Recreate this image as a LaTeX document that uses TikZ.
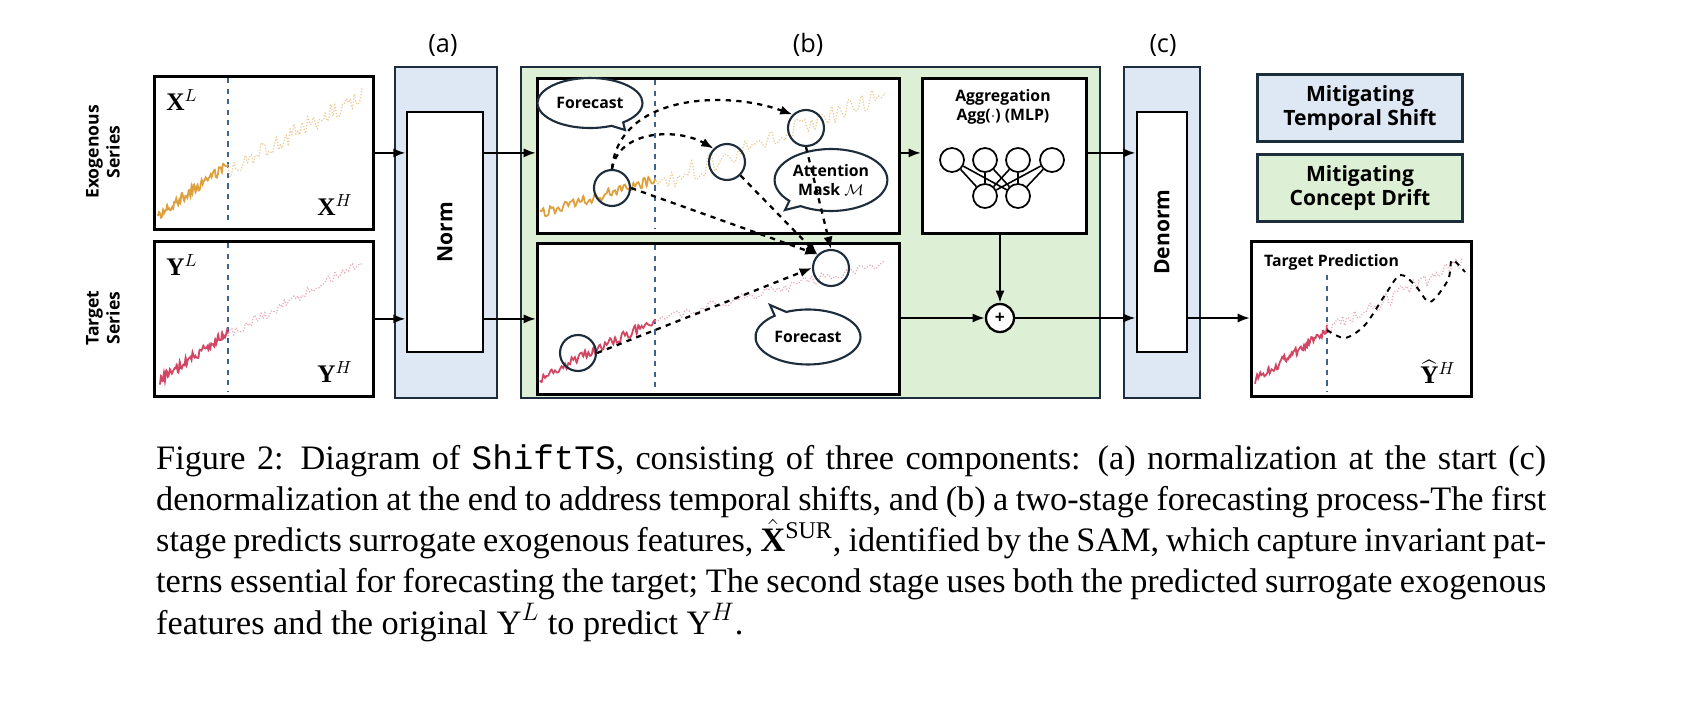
\documentclass[tikz,border=0pt]{standalone}
\usepackage{amsmath,amssymb}
\usepackage{fontspec}
\setmainfont{Liberation Serif}
\setsansfont{Open Sans}
\setmonofont{Liberation Mono}
\usetikzlibrary{shapes.callouts, arrows.meta}
\definecolor{normblue}{RGB}{222,232,244}
\definecolor{driftgreen}{RGB}{221,239,212}
\definecolor{edgedark}{RGB}{30,45,60}
\definecolor{exoorange}{RGB}{222,160,60}
\definecolor{tgtred}{RGB}{210,70,100}
\definecolor{splitblue}{RGB}{60,100,140}
\tikzset{
x=0.02cm, y=-0.02cm,
>={Latex[length=7pt]},
panel/.style={draw=black, line width=1.6pt, fill=white},
colbox/.style={draw=edgedark, line width=1.4pt},
bubble/.style={ellipse callout, draw=edgedark, line width=1.2pt, fill=white, font=\sffamily\bfseries\small, align=center, inner sep=1pt},
ring/.style={circle, draw=edgedark, line width=1.2pt, minimum size=36*0.02cm, inner sep=0pt},
neuron/.style={circle, draw=black, line width=1pt, minimum size=24*0.02cm, inner sep=0pt},
dasharrow/.style={->, dashed, line width=1.3pt},
flow/.style={->, line width=1.3pt},
split/.style={splitblue, dashed, line width=0.9pt},
hist/.style={line width=1pt},
fut/.style={line width=0.7pt, densely dotted},
lbl/.style={font=\sffamily\Large},
}
\newcommand{\noisy}[6]{% style, x0, x1, y0, y1, amplitude
  \draw[#1] plot[domain=#2:#3, samples=70, smooth] (\x, {#4+(#5-#4)*((\x-#2)/(#3-#2))+#6*rand});}
\begin{document}
\begin{tikzpicture}
\pgfmathsetseed{7}
\useasboundingbox (0,0) rectangle (1695,720);

% column labels
\node[lbl] (la) at (443,45) {(a)};
\node[lbl] (lb) at (808,45) {(b)};
\node[lbl] (lc) at (1163,45) {(c)};
\node[rotate=90, align=center, font=\sffamily\bfseries\normalsize] (lexo) at (103,152) {Exogenous\\Series};
\node[rotate=90, align=center, font=\sffamily\bfseries\normalsize] (ltgt) at (103,318) {Target\\Series};

% input panels
\node[panel, minimum width=219*0.02cm, minimum height=153*0.02cm, anchor=north west] (xin) at (153,75) {};
\node[panel, minimum width=219*0.02cm, minimum height=155*0.02cm, anchor=north west] (yin) at (153,240) {};
\draw[split] (228,78) -- (228,225);
\draw[split] (228,243) -- (228,392);
\noisy{exoorange, hist}{158}{228}{215}{165}{5}
\noisy{exoorange!55, fut}{228}{362}{170}{95}{9}
\noisy{tgtred, hist}{160}{228}{380}{332}{5}
\noisy{tgtred!45, fut}{228}{362}{335}{262}{5}
\node (xl) at (182,100) {\Large$\mathbf{X}^{L}$};
\node (xh) at (335,205) {\Large$\mathbf{X}^{H}$};
\node (yl) at (182,265) {\Large$\mathbf{Y}^{L}$};
\node (yh) at (335,372) {\Large$\mathbf{Y}^{H}$};

% (a) normalization
\fill[normblue, draw=edgedark, line width=1.4pt] (395,67) rectangle (497,398);
\node[panel, minimum width=76*0.02cm, minimum height=240*0.02cm] (norm) at (445,232) {};
\node[rotate=90, font=\sffamily\bfseries\large] at (norm) {Norm};

% (b) two-stage forecasting
\fill[driftgreen, draw=edgedark, line width=1.4pt] (521,67) rectangle (1100,398);
\node[panel, minimum width=362*0.02cm, minimum height=155*0.02cm, anchor=north west] (stage1) at (536,77) {};
\node[panel, minimum width=362*0.02cm, minimum height=151*0.02cm, anchor=north west] (stage2) at (536,242) {};
\draw[split] (655,80) -- (655,229);
\draw[split] (655,245) -- (655,390);
\noisy{exoorange, hist}{540}{655}{213}{180}{5}
\noisy{exoorange!55, fut}{655}{885}{185}{95}{10}
\noisy{tgtred, hist}{540}{655}{378}{320}{5}
\noisy{tgtred!45, fut}{655}{885}{320}{262}{5}
\node[ring] (c1) at (612,188) {};
\node[ring] (c2) at (727,162) {};
\node[ring] (c3) at (806,128) {};
\node[ring] (c4) at (578,353) {};
\node[ring] (c5) at (831,268) {};
\node[bubble, minimum width=105*0.02cm, minimum height=50*0.02cm, callout absolute pointer={(625,130)}] (fc1) at (590,103) {Forecast};
\node[bubble, minimum width=100*0.02cm, minimum height=62*0.02cm, callout absolute pointer={(785,210)}] (att) at (831,180) {Attention\\Mask $\mathcal{M}$};
\node[bubble, minimum width=105*0.02cm, minimum height=55*0.02cm, callout absolute pointer={(770,305)}] (fc2) at (808,337) {Forecast};
\draw[dasharrow] (c1.north) to[out=80, in=150] (c2.north west);
\draw[dasharrow] (c1.north) to[out=85, in=160] (c3.north west);
\draw[dasharrow] (c1.east) -- (c5.north west);
\draw[dasharrow] (c2.south east) -- (c5.north west);
\draw[dasharrow] (c3.south) -- (c5.north);
\draw[dasharrow] (c4.east) -- (c5.west);

% aggregation
\node[panel, minimum width=164*0.02cm, minimum height=155*0.02cm, anchor=north west] (agg) at (921,77) {};
\node[font=\sffamily\bfseries\small, align=center] (aggtxt) at (1003,107) {Aggregation\\Agg($\cdot$) (MLP)};
\foreach \i/\xx in {1/952, 2/985, 3/1018, 4/1052}
  \node[neuron] (n\i) at (\xx,160) {};
\node[neuron] (m1) at (985,196) {};
\node[neuron] (m2) at (1018,196) {};
\foreach \i in {1,...,4}
  \foreach \j in {1,2}
    \draw[line width=0.9pt] (n\i) -- (m\j);
\node[circle, draw=black, line width=1.3pt, fill=white, minimum size=28*0.02cm, inner sep=0pt, font=\sffamily\bfseries] (plus) at (1000,318) {+};

% (c) denormalization
\fill[normblue, draw=edgedark, line width=1.4pt] (1124,67) rectangle (1200,398);
\node[panel, minimum width=50*0.02cm, minimum height=240*0.02cm] (denorm) at (1162,232) {};
\node[rotate=90, font=\sffamily\bfseries\large] at (denorm) {Denorm};

% legend
\node[colbox, fill=normblue, minimum width=205*0.02cm, minimum height=67*0.02cm, align=center, font=\sffamily\bfseries\large] (leg1) at (1360,108) {Mitigating\\Temporal Shift};
\node[colbox, fill=driftgreen, minimum width=205*0.02cm, minimum height=67*0.02cm, align=center, font=\sffamily\bfseries\large] (leg2) at (1360,188) {Mitigating\\Concept Drift};

% prediction
\node[panel, minimum width=220*0.02cm, minimum height=155*0.02cm, anchor=north west] (pred) at (1250,240) {};
\draw[split] (1327,275) -- (1327,392);
\noisy{tgtred, hist}{1255}{1327}{380}{330}{5}
\noisy{tgtred!45, fut}{1327}{1462}{330}{262}{7}
\draw[dashed, line width=1.1pt] plot[smooth] coordinates {(1327,330) (1345,338) (1365,325) (1385,295) (1400,275) (1415,285) (1430,302) (1448,280) (1452,260) (1465,272)};
\node[font=\sffamily\bfseries\small, anchor=west] (predtxt) at (1258,262) {Target Prediction};
\node (yhat) at (1438,372) {\Large$\widehat{\mathbf{Y}}^{H}$};

% connectors
\draw[flow] (xin.east) -- (norm.west |- xin.east);
\draw[flow] (yin.east) -- (norm.west |- yin.east);
\draw[flow] (norm.east |- xin.east) -- (stage1.west |- xin.east);
\draw[flow] (norm.east |- yin.east) -- (stage2.west |- yin.east);
\draw[flow] (stage1.east |- xin.east) -- (agg.west |- xin.east);
\draw[flow] (stage2.east |- plus) -- (plus.west);
\draw[flow] (agg.south -| plus) -- (plus.north);
\draw[flow] (agg.east |- xin.east) -- (denorm.west |- xin.east);
\draw[flow] (plus.east) -- (denorm.west |- plus);
\draw[flow] (denorm.east |- plus) -- (pred.west |- plus);

% caption
\node[anchor=north west, text width=1390*0.02cm, align=justify, font=\fontsize{19.5}{23.5}\selectfont] (cap) at (150,438) {Figure 2: Diagram of \texttt{ShiftTS}, consisting of three components: (a) normalization at the start (c) denormalization at the end to address temporal shifts, and (b) a two-stage forecasting process-The first stage predicts surrogate exogenous features, $\hat{\mathbf{X}}^{\mathrm{SUR}}$, identified by the SAM, which capture invariant patterns essential for forecasting the target; The second stage uses both the predicted surrogate exogenous features and the original $\mathrm{Y}^{L}$ to predict $\mathrm{Y}^{H}$.};
\end{tikzpicture}
\end{document}
